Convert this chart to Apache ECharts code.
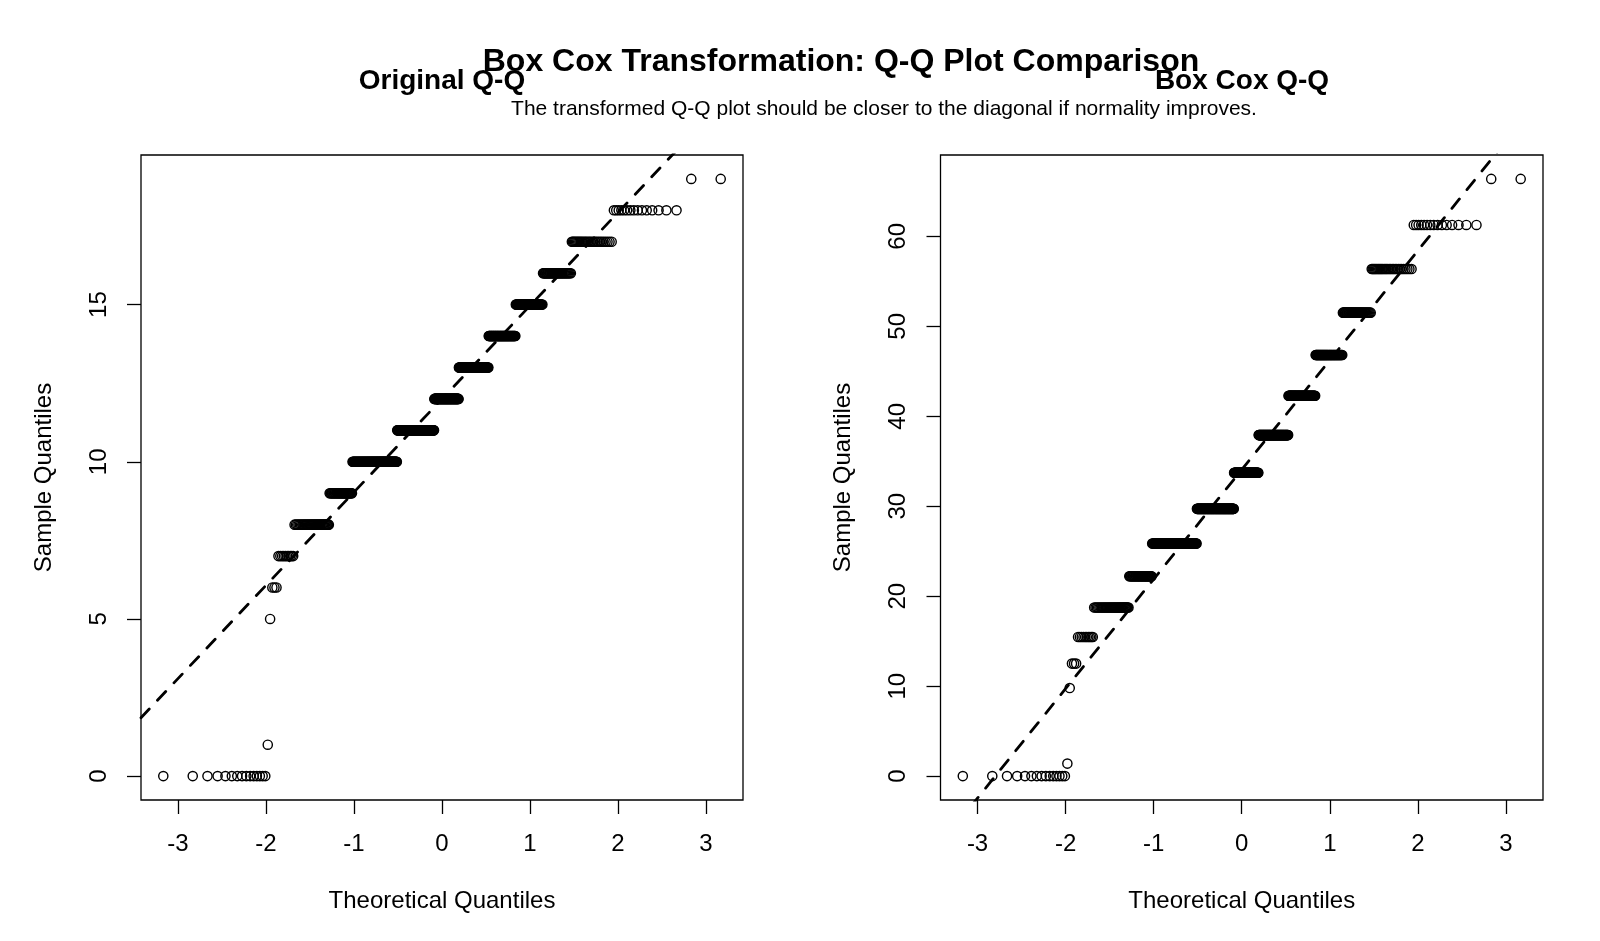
<!DOCTYPE html>
<html>
<head>
<meta charset="utf-8">
<script src="https://cdn.jsdelivr.net/npm/echarts@6/dist/echarts.min.js"></script>
<style>
html, body { margin: 0; padding: 0; background: #fff; }
#qq { width: 1600px; height: 941px; }
</style>
</head>
<body>
<div id="qq"></div>
<script>
// distinct sample values, how many times each occurs, and their Box Cox values
var sampleLevels = [0, 1, 5, 6, 7, 8, 9, 10, 11, 12, 13, 14, 15, 16, 17, 18, 19];
var levelCounts = [15, 1, 1, 3, 10, 35, 35, 98, 104, 72, 82, 63, 49, 36, 29, 15, 2];
var boxCoxLevels = [0, 1.39, 9.79, 12.51, 15.47, 18.74, 22.22, 25.86, 29.71, 33.72, 37.91, 42.28, 46.81, 51.52, 56.37, 61.27, 66.39];

var xTicks = [-3, -2, -1, 0, 1, 2, 3];
var yTicksOriginal = [0, 5, 10, 15];
var yTicksBoxCox = [0, 10, 20, 30, 40, 50, 60];

var font = 'Liberation Sans, Arial, sans-serif';

// inverse normal cdf (Acklam)
function qnorm(p) {
    var a = [-3.969683028665376e+01, 2.209460984245205e+02, -2.759285104469687e+02, 1.383577518672690e+02, -3.066479806614716e+01, 2.506628277459239e+00];
    var b = [-5.447609879822406e+01, 1.615858368580409e+02, -1.556989798598866e+02, 6.680131188771972e+01, -1.328068155288572e+01];
    var c = [-7.784894002430293e-03, -3.223964580411365e-01, -2.400758277161838e+00, -2.549732539343734e+00, 4.374664141464968e+00, 2.938163982698783e+00];
    var d = [7.784695709041462e-03, 3.224671290700398e-01, 2.445134137142996e+00, 3.754408661907416e+00];
    var q, r;
    if (p < 0.02425) {
        q = Math.sqrt(-2 * Math.log(p));
        return (((((c[0] * q + c[1]) * q + c[2]) * q + c[3]) * q + c[4]) * q + c[5]) / ((((d[0] * q + d[1]) * q + d[2]) * q + d[3]) * q + 1);
    }
    if (p > 1 - 0.02425) {
        q = Math.sqrt(-2 * Math.log(1 - p));
        return -(((((c[0] * q + c[1]) * q + c[2]) * q + c[3]) * q + c[4]) * q + c[5]) / ((((d[0] * q + d[1]) * q + d[2]) * q + d[3]) * q + 1);
    }
    q = p - 0.5;
    r = q * q;
    return (((((a[0] * r + a[1]) * r + a[2]) * r + a[3]) * r + a[4]) * r + a[5]) * q / (((((b[0] * r + b[1]) * r + b[2]) * r + b[3]) * r + b[4]) * r + 1);
}

function expand(values) {
    var out = [];
    for (var i = 0; i < values.length; i++) {
        for (var k = 0; k < levelCounts[i]; k++) out.push(values[i]);
    }
    return out;
}

// quantile type 7, like R
function quantile(sorted, p) {
    var h = (sorted.length - 1) * p;
    var lo = Math.floor(h);
    var hi = Math.min(lo + 1, sorted.length - 1);
    return sorted[lo] + (h - lo) * (sorted[hi] - sorted[lo]);
}

function qqSeries(values) {
    var y = expand(values);
    var n = y.length;
    var pts = [];
    for (var i = 0; i < n; i++) {
        pts.push([qnorm((i + 1 - 0.5) / n), y[i]]);
    }
    var slope = (quantile(y, 0.75) - quantile(y, 0.25)) / (qnorm(0.75) - qnorm(0.25));
    var icpt = quantile(y, 0.25) - slope * qnorm(0.25);
    var xr = [pts[0][0], pts[n - 1][0]];
    var yr = [y[0], y[n - 1]];
    var dx = (xr[1] - xr[0]) * 0.04;
    var dy = (yr[1] - yr[0]) * 0.04;
    var xlim = [xr[0] - dx, xr[1] + dx];
    return {
        points: pts,
        line: [[xlim[0], icpt + slope * xlim[0]], [xlim[1], icpt + slope * xlim[1]]],
        xlim: xlim,
        ylim: [yr[0] - dy, yr[1] + dy]
    };
}

var orig = qqSeries(sampleLevels);
var boxcox = qqSeries(boxCoxLevels);

function xAxisFor(idx, qq) {
    return {
        gridIndex: idx,
        type: 'value',
        min: qq.xlim[0],
        max: qq.xlim[1],
        name: 'Theoretical Quantiles',
        nameLocation: 'middle',
        nameGap: 89,
        nameTextStyle: { color: '#000', fontSize: 24, fontFamily: font },
        axisLine: { show: false, onZero: false },
        axisTick: { show: true, inside: false, length: 14, customValues: xTicks, lineStyle: { color: '#000', width: 1.3 } },
        axisLabel: { show: true, margin: 32, customValues: xTicks, color: '#000', fontSize: 24, fontFamily: font },
        splitLine: { show: false }
    };
}

function yAxisFor(idx, qq, ticks) {
    return {
        gridIndex: idx,
        type: 'value',
        min: qq.ylim[0],
        max: qq.ylim[1],
        name: 'Sample Quantiles',
        nameLocation: 'middle',
        nameGap: 85,
        nameTextStyle: { color: '#000', fontSize: 24, fontFamily: font },
        axisLine: { show: false, onZero: false },
        axisTick: { show: true, inside: false, length: 14, customValues: ticks, lineStyle: { color: '#000', width: 1.3 } },
        axisLabel: { show: true, rotate: 90, margin: 30, customValues: ticks, color: '#000', fontSize: 24, fontFamily: font },
        splitLine: { show: false }
    };
}

function pointSeries(idx, qq) {
    return {
        type: 'scatter',
        xAxisIndex: idx,
        yAxisIndex: idx,
        data: qq.points,
        symbol: 'circle',
        symbolSize: 9.2,
        itemStyle: { color: 'rgba(0,0,0,0)', borderColor: '#000', borderWidth: 1.4, opacity: 1 },
        emphasis: { disabled: true },
        silent: true
    };
}

function lineSeries(idx, qq) {
    return {
        type: 'line',
        xAxisIndex: idx,
        yAxisIndex: idx,
        data: qq.line,
        showSymbol: false,
        clip: true,
        lineStyle: { color: '#000', width: 2.8, type: [12, 12], cap: 'round' },
        silent: true
    };
}

var myChart = echarts.init(document.getElementById('qq'), null, { renderer: 'canvas' });

var option = {
    backgroundColor: '#fff',
    animation: false,
    textStyle: { fontFamily: font },
    grid: [
        { left: 141, top: 155, width: 602, height: 645, show: true, borderColor: '#000', borderWidth: 1.3, backgroundColor: 'transparent' },
        { left: 940.5, top: 155, width: 602.5, height: 645, show: true, borderColor: '#000', borderWidth: 1.3, backgroundColor: 'transparent' }
    ],
    xAxis: [xAxisFor(0, orig), xAxisFor(1, boxcox)],
    yAxis: [yAxisFor(0, orig, yTicksOriginal), yAxisFor(1, boxcox, yTicksBoxCox)],
    series: [
        pointSeries(0, orig),
        lineSeries(0, orig),
        pointSeries(1, boxcox),
        lineSeries(1, boxcox)
    ],
    graphic: [
        {
            type: 'text', x: 442, y: 81, z: 10,
            style: { text: 'Original Q-Q', fill: '#000', font: 'bold 28px ' + font, textAlign: 'center', textVerticalAlign: 'middle' }
        },
        {
            type: 'text', x: 1242, y: 81, z: 10,
            style: { text: 'Box Cox Q-Q', fill: '#000', font: 'bold 28px ' + font, textAlign: 'center', textVerticalAlign: 'middle' }
        },
        {
            type: 'text', x: 841, y: 62, z: 11,
            style: { text: 'Box Cox Transformation: Q-Q Plot Comparison', fill: '#000', font: 'bold 32px ' + font, textAlign: 'center', textVerticalAlign: 'middle' }
        },
        {
            type: 'text', x: 884, y: 109, z: 10,
            style: { text: 'The transformed Q-Q plot should be closer to the diagonal if normality improves.', fill: '#000', font: '21px ' + font, textAlign: 'center', textVerticalAlign: 'middle' }
        }
    ]
};

myChart.setOption(option);
</script>
</body>
</html>
